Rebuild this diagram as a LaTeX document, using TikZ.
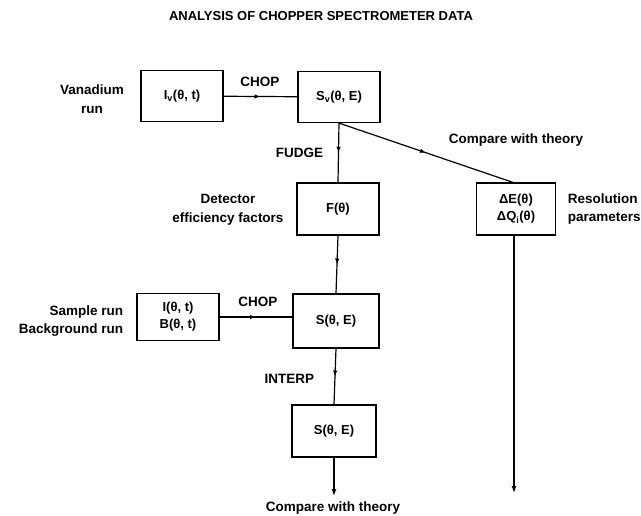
\documentclass[tikz,border=0pt]{standalone}
\usepackage{fontspec}
\setmainfont{Liberation Sans}
\usetikzlibrary{arrows.meta,decorations.markings}

\begin{document}
\begin{tikzpicture}[x=1pt, y=-1pt, line width=1.2pt]
  \tikzset{
    databox/.style={draw, minimum width=82pt, minimum height=51pt, align=center,
      inner sep=2pt, font=\fontsize{13}{17}\selectfont\bfseries},
    lbl/.style={font=\fontsize{13.5}{18.5}\selectfont\bfseries, align=center},
    midarrow/.style={decoration={markings,
      mark=at position 0.5 with {\arrow{Latex[length=6pt,width=4.5pt]}}}, postaction=decorate},
    endarrow/.style={-{Latex[length=7pt,width=5pt]}}
  }
  \useasboundingbox (0,0) rectangle (641,516);

  \node[lbl, font=\fontsize{13}{16}\selectfont\bfseries] (title) at (321,16) {ANALYSIS OF CHOPPER SPECTROMETER DATA};

  % boxes
  \node[databox] (Iv) at (182,96) {I\textsubscript{v}(θ, t)};
  \node[databox] (Sv) at (339,97) {S\textsubscript{v}(θ, E)};
  \node[databox, minimum height=52pt] (F) at (338,209) {F(θ)};
  \node[databox, minimum width=79pt, minimum height=52pt] (res) at (516,209) {ΔE(θ)\\ΔQ\textsubscript{i}(θ)};
  \node[databox, minimum height=47pt] (IB) at (178,317) {I(θ, t)\\B(θ, t)};
  \node[databox, minimum width=86pt, minimum height=54pt] (S1) at (336,321) {S(θ, E)};
  \node[databox, minimum width=84pt, minimum height=52pt] (S2) at (334,431) {S(θ, E)};

  % side texts
  \node[lbl] (van) at (92,99) {Vanadium\\run};
  \node[lbl] (det) at (228,210) {Detector\\efficiency factors};
  \node[lbl, align=right, anchor=east] (runs) at (127,321) {Sample run\\Background run};
  \node[lbl, align=left, anchor=west] (respar) at (564,209) {Resolution\\parameters};
  \node[lbl] (cmp1) at (516,140) {Compare with theory};
  \node[lbl] (cmp2) at (333,508) {Compare with theory};

  % operation labels
  \node[lbl] (chop1) at (260,82) {CHOP};
  \node[lbl] (chop2) at (258,302) {CHOP};
  \node[lbl, anchor=east] (fudge) at (327,153) {FUDGE};
  \node[lbl, anchor=east] (interp) at (318,379) {INTERP};

  \coordinate (resend) at (514,493);
  \coordinate (cmpend) at (334,496);

  \draw[midarrow] (Iv) -- (Sv);
  \draw[midarrow] (Sv.south) -- (F.north);
  \draw[midarrow] (Sv.south) -- ([xshift=-3pt]res.north);
  \draw[midarrow] (F.south) -- (S1.north);
  \draw[midarrow] (IB.east) -- (IB.east -| S1.west);
  \draw[midarrow] (S1.south) -- (S2.north);
  \draw[endarrow] (S2.south) -- (cmpend);
  \draw[endarrow] ([xshift=-2pt]res.south) -- (resend);
\end{tikzpicture}
\end{document}
